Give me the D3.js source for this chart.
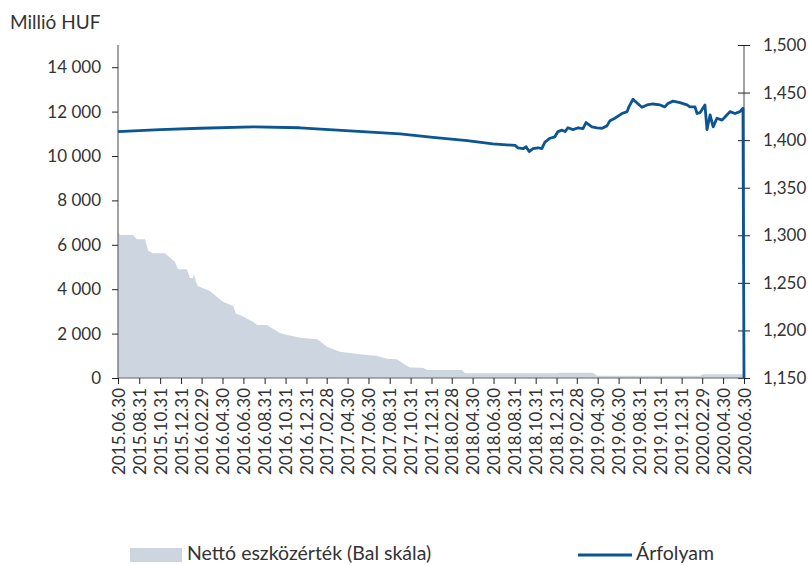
<!DOCTYPE html>
<html>
<head>
<meta charset="utf-8">
<script src="https://cdn.jsdelivr.net/npm/d3@7"></script>
<style>
  body { margin: 0; background: #fff; }
  svg { display: block; font-family: Lato, "Open Sans", sans-serif; }
</style>
</head>
<body>
<div id="chart"></div>
<script>
// Nettó eszközérték (millió HUF)
var navDates = ["2015-06-30","2015-07-06","2015-08-13","2015-08-24","2015-09-17","2015-09-26","2015-10-10","2015-11-14",
  "2015-12-13","2015-12-22","2016-01-17","2016-01-26","2016-02-04","2016-02-07","2016-02-13","2016-02-18","2016-03-24",
  "2016-05-01","2016-05-31","2016-06-08","2016-06-20","2016-07-28","2016-08-09","2016-09-07","2016-10-15","2016-12-12",
  "2017-01-31","2017-02-09","2017-03-01","2017-04-08","2017-06-05","2017-07-25","2017-08-23","2017-09-21","2017-10-15",
  "2017-10-29","2017-12-06","2017-12-18","2018-03-30","2018-04-08","2019-01-01","2019-01-07","2019-04-16","2019-04-28",
  "2020-02-23","2020-03-02","2020-06-30"];
var navValues = [6550, 6440, 6440, 6250, 6250, 5735, 5615, 5615,
  5240, 4895, 4895, 4500, 4500, 4685, 4300, 4145, 3920,
  3437, 3243, 2900, 2838, 2536, 2387, 2387, 2012, 1816,
  1743, 1650, 1410, 1185, 1065, 990, 870, 850, 600,
  470, 464, 360, 360, 210, 210, 240, 240, 105,
  105, 165, 165];

// Árfolyam (jobb skála)
var fxDates = ["2015-06-30","2015-10-31","2016-02-24","2016-07-28","2016-12-12","2017-09-30","2018-01-04","2018-04-14",
  "2018-06-28","2018-09-01","2018-09-09","2018-09-24","2018-10-03","2018-10-12","2018-10-23","2018-11-07","2018-11-18",
  "2018-11-27","2018-12-12","2018-12-26","2019-01-04","2019-01-16","2019-01-25","2019-02-02","2019-02-17","2019-03-04",
  "2019-03-18","2019-03-27","2019-04-13","2019-04-28","2019-05-13","2019-05-27","2019-06-05","2019-06-19","2019-07-04",
  "2019-07-10","2019-07-25","2019-07-30","2019-08-11","2019-08-23","2019-09-06","2019-09-21","2019-10-08","2019-10-29",
  "2019-11-12","2019-11-21","2019-12-06","2019-12-26","2020-01-16","2020-01-24","2020-02-08","2020-02-14","2020-02-23",
  "2020-03-08","2020-03-14","2020-03-23","2020-04-01","2020-04-12","2020-04-27","2020-05-11","2020-05-20","2020-06-04",
  "2020-06-18","2020-06-27","2020-06-30"];
var fxValues = [1409, 1411, 1412.5, 1414, 1413, 1406.5, 1403, 1399.5,
  1396, 1394.5, 1392, 1391, 1393, 1388, 1391, 1392, 1391,
  1398, 1402, 1403.5, 1409, 1410.5, 1409, 1413, 1411, 1413,
  1412, 1418.5, 1414, 1413, 1412.5, 1415, 1420.5, 1423, 1426.5,
  1428, 1430, 1435, 1443, 1439, 1434.5, 1437, 1438, 1437,
  1435, 1438.5, 1441, 1439.5, 1437, 1435, 1435, 1428, 1429,
  1437, 1411, 1426.5, 1414, 1423, 1421, 1426.5, 1430, 1428,
  1430, 1433.5, 1150];

var xTickLabels = ["2015.06.30","2015.08.31","2015.10.31","2015.12.31","2016.02.29","2016.04.30","2016.06.30","2016.08.31",
  "2016.10.31","2016.12.31","2017.02.28","2017.04.30","2017.06.30","2017.08.31","2017.10.31","2017.12.31","2018.02.28",
  "2018.04.30","2018.06.30","2018.08.31","2018.10.31","2018.12.31","2019.02.28","2019.04.30","2019.06.30","2019.08.31",
  "2019.10.31","2019.12.31","2020.02.29","2020.04.30","2020.06.30"];
var leftTicks = [0, 2000, 4000, 6000, 8000, 10000, 12000, 14000];
var rightTicks = [1150, 1200, 1250, 1300, 1350, 1400, 1450, 1500];

var width = 808,
    height = 565,
    margin = { top: 45, right: 64, bottom: 187, left: 118 };

var parseDate = d3.timeParse("%Y-%m-%d"),
    parseLabel = d3.timeParse("%Y.%m.%d");

var nav = navDates.map(function(d, i) { return { date: parseDate(d), value: navValues[i] }; });
var fx = fxDates.map(function(d, i) { return { date: parseDate(d), value: fxValues[i] }; });

var svg = d3.select("#chart").append("svg")
    .attr("width", width)
    .attr("height", height);

var g = svg.append("g")
    .attr("transform", "translate(" + margin.left + "," + margin.top + ")");

var w = width - margin.left - margin.right,
    h = height - margin.top - margin.bottom;

var x = d3.scaleTime()
    .domain([parseDate("2015-06-30"), parseDate("2020-06-30")])
    .range([0, w]);

var yLeft = d3.scaleLinear().domain([0, 15000]).range([h, 0]);
var yRight = d3.scaleLinear().domain([1150, 1500]).range([h, 0]);

// "14 000" style labels, 4-digit numbers also get the space
function leftFormat(d) {
    return d3.format(",")(d).replace(/,/g, " ");
}

// area
var area = d3.area()
    .x(function(d) { return x(d.date); })
    .y0(h)
    .y1(function(d) { return yLeft(d.value); });

g.append("path")
    .datum(nav)
    .attr("d", area)
    .style("fill", "#cdd6e0");

// axes
var axisColor = "#666";
var textColor = "#333";

var leftAxis = g.append("g")
    .call(d3.axisLeft(yLeft).tickValues(leftTicks).tickSize(6).tickPadding(11).tickFormat(leftFormat));

var rightAxis = g.append("g")
    .attr("transform", "translate(" + w + ",0)")
    .call(d3.axisRight(yRight).tickValues(rightTicks).tickSize(6).tickPadding(13).tickFormat(d3.format(",")));
rightAxis.selectAll(".tick line").attr("x1", -6);

var bottomAxis = g.append("g")
    .attr("transform", "translate(0," + h + ")")
    .call(d3.axisBottom(x)
        .tickValues(xTickLabels.map(parseLabel))
        .tickSize(6)
        .tickFormat(d3.timeFormat("%Y.%m.%d")));

bottomAxis.selectAll("text")
    .attr("transform", "rotate(-90)")
    .attr("x", -10)
    .attr("y", 0)
    .attr("dy", "0.36em")
    .style("text-anchor", "end");

[leftAxis, rightAxis, bottomAxis].forEach(function(a) {
    a.select(".domain").attr("stroke", axisColor).attr("stroke-width", 1.2);
    a.selectAll(".tick line").attr("stroke", "#222").attr("stroke-width", 1);
    a.selectAll("text").attr("fill", textColor).style("font-size", "17px").style("font-family", "Lato, 'Open Sans', sans-serif");
});
leftAxis.select(".domain").attr("d", "M0," + h + "V0");
rightAxis.select(".domain").attr("d", "M0," + h + "V0");
bottomAxis.select(".domain").attr("d", "M0,0H" + w);

// line
var line = d3.line()
    .x(function(d) { return x(d.date); })
    .y(function(d) { return yRight(d.value); });

g.append("path")
    .datum(fx)
    .attr("d", line)
    .style("fill", "none")
    .style("stroke", "#0a5592")
    .style("stroke-width", 2.8)
    .style("stroke-linejoin", "round");

// unit title
svg.append("text")
    .attr("x", 10)
    .attr("y", 29)
    .style("font-size", "19px")
    .style("fill", textColor)
    .text("Millió HUF");

// legend
svg.append("rect")
    .attr("x", 130).attr("y", 548)
    .attr("width", 52).attr("height", 14)
    .style("fill", "#cdd6e0");
svg.append("text")
    .attr("x", 187).attr("y", 560)
    .style("font-size", "19.5px")
    .style("fill", textColor)
    .text("Nettó eszközérték (Bal skála)");

svg.append("line")
    .attr("x1", 578).attr("x2", 632)
    .attr("y1", 555).attr("y2", 555)
    .style("stroke", "#0a5592")
    .style("stroke-width", 2.8);
svg.append("text")
    .attr("x", 636).attr("y", 560)
    .style("font-size", "19.5px")
    .style("fill", textColor)
    .text("Árfolyam");
</script>
</body>
</html>
